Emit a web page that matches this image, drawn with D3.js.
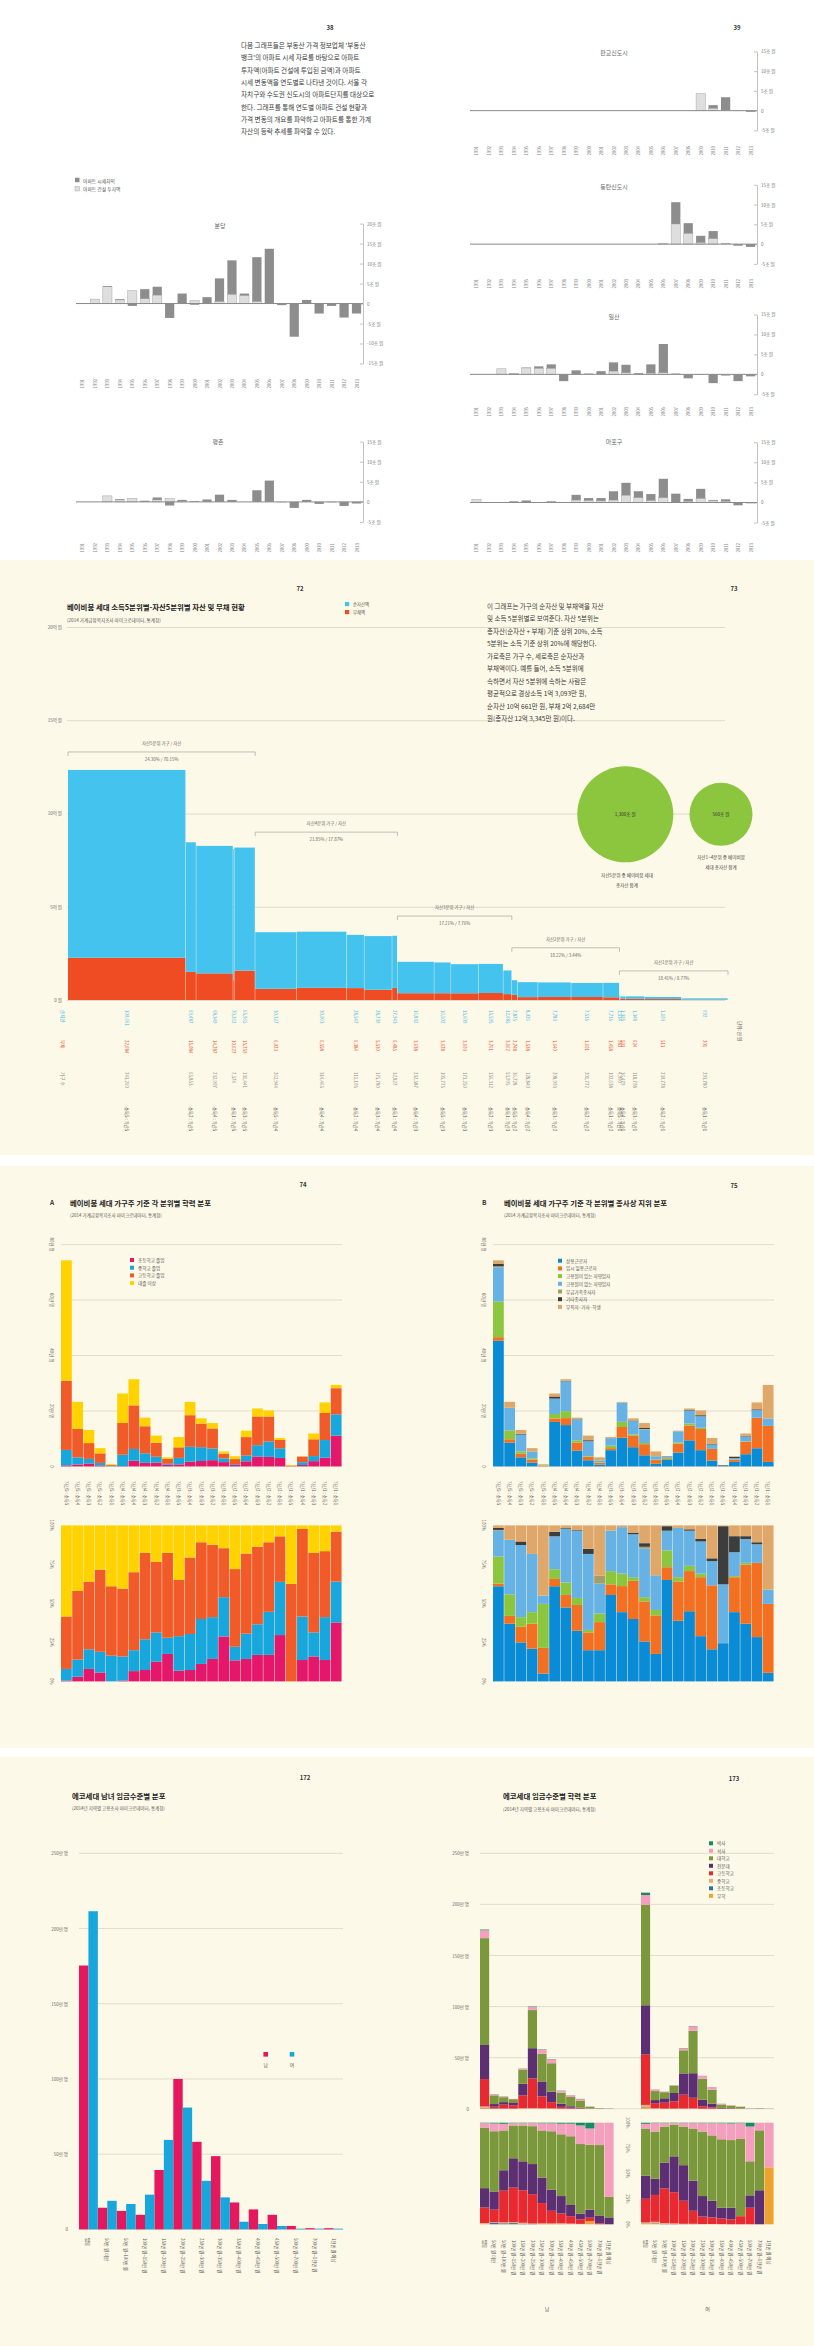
<!DOCTYPE html>
<html>
<head>
<meta charset="utf-8">
<script src="https://cdn.jsdelivr.net/npm/d3@7"></script>
<style>
  body { margin: 0; background: #fff; }
  svg { display: block; }
</style>
</head>
<body>
<svg id="page" width="814" height="2346"></svg>
<script>
// ---------------- data ----------------
// p.38-39 아파트 투자액 / 시세차익 (조 원)
const aptYears = ["1991","1992","1993","1994","1995","1996","1997","1998","1999","2000","2001","2002",
  "2003","2004","2005","2006","2007","2008","2009","2010","2011","2012","2013"];
const bundangBuild = [0,1.1,4.2,0.9,3.2,1.2,2.1,0,0,0.8,0,0.5,2.3,2.0,0.5,0,0,0,0,0,0,0,0];
const bundangGain  = [0,0,0.2,0.2,-0.6,2.4,2.1,-3.6,2.5,-0.3,1.6,5.8,8.5,0.5,11.1,13.7,-0.4,-8.3,0.9,-2.5,-0.6,-3.5,-2.5];
const pyeongchonBuild = [0,0,1.5,0.5,0.9,0,0.5,0.8,0.2,0,0,0,0,0,0,0,0,0,0,0,0,0,0];
const pyeongchonGain  = [0,0,0,0.2,0,0.3,0.6,-0.9,0.3,0.2,0.6,1.8,0.5,0,2.9,5.3,-0.1,-1.5,0.5,-0.5,-0.1,-1.0,-0.4];
const pangyoBuild = [0,0,0,0,0,0,0,0,0,0,0,0,0,0,0,0,0,0,4.3,0.6,0,0,0];
const pangyoGain  = [0,0,0,0,0,0,0,0,0,0,0,0,0,0,0,0,0,0,0,0.8,3.4,-0.1,-0.3];
const dongtanBuild = [0,0,0,0,0,0,0,0,0,0,0,0,0,0,0,0.2,5.1,2.7,0.4,1.4,0,0,0];
const dongtanGain  = [0,0,0,0,0,0,0,0,0,0,0,0,0,0,0,0,5.5,2.6,1.7,1.9,0.2,-0.4,-0.7];
const ilsanBuild = [0,0,1.4,0.2,1.6,1.5,1.5,0,0,0,0,0.8,0.4,0,0.3,0.4,0,0,0,0,0,0,0];
const ilsanGain  = [0,0,0,0.1,0.1,0.5,1.0,-1.7,1.0,0.2,0.8,2.2,2.0,0.3,2.2,7.2,0.2,-1.0,-0.1,-2.2,-0.3,-1.7,-0.5];
const mapoBuild = [0.8,0,0,0,0.1,0,0,0,0.6,0.5,0.4,0.6,1.8,1.2,0.5,1.2,0,0.3,1.0,0.4,0.3,0,0];
const mapoGain  = [0,0,0.1,0.3,0.4,0,0.3,0.1,1.3,0.6,0.7,2.2,3.1,1.6,1.6,4.7,2.2,0.6,2.4,0.2,0.5,-0.7,-0.2];

// p.72 소득5분위별-자산5분위별 자산 및 부채 (만 원, 가구)
const wLabels = ["소득5 : 자산5","소득2 : 자산5","소득4 : 자산5","소득1 : 자산5","소득3 : 자산5",
  "소득5 : 자산4","소득4 : 자산4","소득2 : 자산4","소득3 : 자산4","소득1 : 자산4",
  "소득4 : 자산3","소득5 : 자산3","소득3 : 자산3","소득2 : 자산3","소득1 : 자산3",
  "소득5 : 자산2","소득4 : 자산2","소득3 : 자산2","소득2 : 자산2","소득1 : 자산2",
  "소득5 : 자산1","소득4 : 자산1","소득3 : 자산1","소득2 : 자산1","소득1 : 자산1"];
const wNet  = [100661,69487,68349,70262,65965, 30327,30063,28547,28739,27943, 16832,16502,15609,15595,12685,
  7875,8026,7783,7535,7735, 1534,1305,1348,1103,692];
const wDebt = [22684,15084,14287,10627,15759, 6023,6558,6384,5530,6485, 3638,3628,3603,3761,3162,
  2748,1538,1640,1601,1458, 983,593,624,513,201];
const wHouse = [743260,65853,232907,7574,131441, 262944,314465,111105,175780,32827, 232587,105775,173250,156312,53995,
  36728,128840,208903,201772,102638, 4900,36479,118708,230778,293780];
const wGroupNames = ["자산5분위 가구 / 자산","자산4분위 가구 / 자산","자산3분위 가구 / 자산","자산2분위 가구 / 자산","자산1분위 가구 / 자산"];
const wGroupShares = ["24.30% / 70.15%","21.85% / 17.87%","17.21% / 7.76%","18.22% / 3.44%","18.41% / 0.77%"];
const circleValues = [1300, 560];
const circleTexts = ["1,300조 원", "560조 원"];

// p.74-75 각 분위별 학력 / 종사상 지위 분포 (%)
const abLabels = ["자산5 : 소득5","자산5 : 소득4","자산5 : 소득3","자산5 : 소득2","자산5 : 소득1",
  "자산4 : 소득5","자산4 : 소득4","자산4 : 소득3","자산4 : 소득2","자산4 : 소득1",
  "자산3 : 소득5","자산3 : 소득4","자산3 : 소득3","자산3 : 소득2","자산3 : 소득1",
  "자산2 : 소득5","자산2 : 소득4","자산2 : 소득3","자산2 : 소득2","자산2 : 소득1",
  "자산1 : 소득5","자산1 : 소득4","자산1 : 소득3","자산1 : 소득2","자산1 : 소득1"];
const eduKeysA = ["초등학교 졸업","중학교 졸업","고등학교 졸업","대졸 이상"];
const eduElem = [0.5,3,8,5.7,0,0.5,6.6,7.3,12.6,17.6,6.9,7.3,11.2,14.4,28.8,13.5,14.4,17,17,29.7,0,13.7,16,13.7,37.8];
const eduMid  = [7.5,11,12.6,13.3,16.5,15.5,13.4,19.7,18.8,10.4,22.1,23.1,28.8,26.8,25.2,8.7,16.2,19.6,27.6,34.1,0,27.9,15.4,27.5,26.2];
const eduHigh = [33.6,44,43.4,52.6,44.5,43.5,50,55.4,45.3,54.4,36,49,49.2,46.4,31.4,49.8,51.4,49.7,44.6,29.2,62.5,56.1,51,42.3,32];
const eduUniv = [58.4,42,36,28.4,39,40.5,30,17.6,23.3,17.6,35,20.6,10.8,12.4,14.6,28,18,13.7,10.8,7,37.5,2.3,17.6,16.5,4];
const jobKeys = ["상용근로자","임시 일용근로자","고용원이 있는 자영업자","고용원이 없는 자영업자","무급가족종사자","기타종사자","무직자·가사·학생"];
const jobRegular  = [61,37,25,21,5,61,47.4,32.5,20,20,55.4,44.4,40,25.6,17.6,65,38.9,45,29,20.6,24.5,44.4,37,28.4,5.5];
const jobTemp     = [1.7,5,10.2,16,16.5,4.7,8,16.5,11.4,18,6.8,16.7,24.5,25.7,24.7,8.2,25.1,25.7,37.8,41,0,22.4,37.8,47.6,44.2];
const jobEmployer = [17.3,13.8,6,7.4,28.2,6.2,8,4.5,1.6,5.5,8.5,8,2.3,2.7,3.5,10.8,2.8,3.4,2.3,0,0,0.7,1.2,0,0];
const jobSelf     = [16.6,35,46.2,37.3,5.3,21.1,34.3,43.1,48.7,19.2,25.9,29.8,27.5,31.3,22.2,12.6,31.6,22.5,20.6,15.5,37.7,15.3,15.3,11.9,9.1];
const jobFamily   = [0.5,0,0,0,0,0,0,0,0,5,0,0,0,1,0,0,0,0,0,0,0,0,0,0,0];
const jobOther    = [1.3,0,2.3,0,0,2.9,0.5,0.4,3.3,0,0,0,1.1,2.3,0,2.9,0,0.9,1.8,1.8,37.3,10.3,1.8,1.3,0];
const jobNone     = [1.6,9.2,10.3,18.3,45,4.1,1.8,3,15,32.3,3.4,1.1,4.6,11.4,32,0.5,1.6,2.5,8.5,21.1,0.5,6.9,6.9,10.8,41.2];

// p.172-173 에코세대 임금수준별 분포 (만 명) 및 학력 구성 (%)
const wageCats = ["없음","50만 원 미만","50만 원~100만 원","100만 원~150만 원","150만 원~200만 원","200만 원~250만 원",
  "250만 원~300만 원","300만 원~350만 원","350만 원~400만 원","400만 원~450만 원","450만 원~500만 원",
  "500만 원~700만 원","700만 원~1천만 원","1천만 원 이상"];
const wageMale   = [175.4,14.4,12.3,9.7,39.5,100,58.2,48.7,17.9,13.3,9.7,2.3,0.8,0.8];
const wageFemale = [211.5,19,16.9,23.1,59.5,81,32.3,21.3,5.1,3.6,2.3,0.5,0.5,0.5];
const echoEduKeys = ["무학","초등학교","중학교","고등학교","전문대","대학교","석사","박사"];
const maleNone   = [0.3,0,0,0,0,0,0.2,0.2,0.2,0.2,0,3,0,0];
const maleElem   = [0.2,1.5,1,1.2,0.5,0.3,0.3,0.2,0.2,0,0,0,0,0];
const maleMid    = [0.8,0.5,1,1,1,0.5,0.5,0.5,0.6,0.5,0.4,0,0,0];
const maleHigh   = [15.3,12.4,31.1,33.9,32,28.9,19.9,12.4,9.6,7.3,4.5,3.5,1,0];
const maleColl   = [19,17.9,20.1,28.9,28.5,29.6,25.1,20.9,17.2,11,5.7,7.9,7.7,6.8];
const maleUniv   = [59.6,59.3,39.2,32.3,35.3,37.3,46.4,57.4,60.8,67.7,68.4,63.9,69.3,20.2];
const maleMaster = [4.4,7.6,6.5,2.3,2.3,3,7,7.8,10.4,12.3,18.3,16,22,73];
const maleDoctor = [0.4,0.8,1.1,0.4,0.4,0.4,0.6,0.6,1,1,2.7,5.7,0,0];
const femaleNone   = [0.7,0.5,0,0,0,0,0,0,0,0,0,0,0,56];
const femaleElem   = [0.3,0.5,0.4,0.3,0.2,0.2,0.1,0,0,0,0,0,0,0];
const femaleMid    = [0.8,1.5,0.8,0.6,0.3,0.3,0.2,0.3,0.2,0,0,0,0,0];
const femaleHigh   = [23.3,26.4,34.2,30.7,22.7,12.8,7.3,6.5,5.5,4.9,8,16.3,0,0];
const femaleColl   = [22.8,16,25.4,35.3,35,29.7,20.2,16.4,10.6,11.4,0,12.2,33.5,0];
const femaleUniv   = [46.4,46.4,35.4,31.2,38,51.3,63.5,64.3,67.4,66.6,76,33.5,59,0];
const femaleMaster = [4.6,8.3,3.4,1.5,3.4,5.3,8.3,12,15.8,16.3,15.5,34.2,7.5,44];
const femaleDoctor = [1.1,0.4,0.4,0.4,0.4,0.4,0.4,0.5,0.5,0.8,0.5,3.8,0,0];

// ---------------- drawing ----------------
const FONT = '"Noto Sans CJK KR", "Noto Sans", sans-serif';
const svg = d3.select("#page").attr("font-family", FONT);
const CREAM = "#fdf9e8";

function txt(g, x, y, s, o = {}) {
  const t = g.append("text").attr("x", x).attr("y", y).text(s)
    .attr("font-size", o.size || 5).attr("fill", o.color || "#555")
    .attr("text-anchor", o.anchor || "start")
    .attr("dominant-baseline", o.base || "central");
  if (o.bold) t.attr("font-weight", 700);
  if (o.rotate) t.attr("transform", `rotate(${o.rotate},${x},${y})`);
  return t;
}

svg.append("rect").attr("width", 814).attr("height", 2346).attr("fill", "#fff");
[[560, 1155], [1166, 1748], [1757, 2346]].forEach(([a, b]) =>
  svg.append("rect").attr("x", 0).attr("y", a).attr("width", 814).attr("height", b - a).attr("fill", CREAM));

// ===== p.38-39 =====
const s1 = svg.append("g");
txt(s1, 330, 27, "38", { size: 6, bold: true, color: "#333", anchor: "middle" });
txt(s1, 737, 27, "39", { size: 6, bold: true, color: "#333", anchor: "middle" });
["다음 그래프들은 부동산 가격 정보업체 '부동산", "뱅크'의 아파트 시세 자료를 바탕으로 아파트",
 "투자액(아파트 건설에 투입된 금액)과 아파트", "시세 변동액을 연도별로 나타낸 것이다. 서울 각",
 "자치구와 수도권 신도시의 아파트단지를 대상으로", "한다. 그래프를 통해 연도별 아파트 건설 현황과",
 "가격 변동의 개요를 파악하고 아파트를 통한 가계", "자산의 등락 추세를 파악할 수 있다."]
  .forEach((l, i) => txt(s1, 241, 45 + i * 12.3, l, { size: 6.6, color: "#3a3a3a" }));

const APT_DARK = "#8d8d8d", APT_LIGHT = "#dedede";
s1.append("rect").attr("x", 75).attr("y", 177.7).attr("width", 4.5).attr("height", 4.5).attr("fill", APT_DARK);
s1.append("rect").attr("x", 75).attr("y", 186.5).attr("width", 4.5).attr("height", 4.5).attr("fill", APT_LIGHT).attr("stroke", "#aaa").attr("stroke-width", 0.5);
txt(s1, 83, 180, "아파트 시세차익", { size: 4.8, color: "#555" });
txt(s1, 83, 188.8, "아파트 건설 투자액", { size: 4.8, color: "#555" });

function aptChart(o) {
  const g = s1.append("g");
  const x = d3.scaleBand().domain(aptYears).range([o.x0, o.x1]).paddingInner(0.26).paddingOuter(0.15);
  const y = d3.scaleLinear().domain(o.domain).range([o.bottom, o.top]);
  const bw = x.bandwidth();
  g.selectAll("rect.lt").data(o.light.map((v, i) => ({ v, yr: aptYears[i] })).filter(d => d.v > 0))
    .join("rect").attr("x", d => x(d.yr)).attr("width", bw)
    .attr("y", d => y(d.v)).attr("height", d => y(0) - y(d.v))
    .attr("fill", APT_LIGHT).attr("stroke", "#a8a8a8").attr("stroke-width", 0.5);
  g.selectAll("rect.dk").data(o.dark.map((v, i) => ({ v, base: v > 0 ? o.light[i] : 0, yr: aptYears[i] })).filter(d => d.v !== 0))
    .join("rect").attr("x", d => x(d.yr)).attr("width", bw)
    .attr("y", d => y(Math.max(d.base, d.base + d.v)))
    .attr("height", d => Math.abs(y(d.base) - y(d.base + d.v)))
    .attr("fill", APT_DARK);
  g.append("line").attr("x1", o.x0).attr("x2", o.x1).attr("y1", y(0)).attr("y2", y(0))
    .attr("stroke", "#8a8a8a").attr("stroke-width", 1);
  const ax = g.append("g").attr("transform", `translate(${o.x1},0)`)
    .call(d3.axisRight(y).tickValues(o.ticks).tickSize(-3).tickSizeOuter(0).tickPadding(4)
      .tickFormat(d => d === 0 ? "0" : d + "조 원"));
  ax.select(".domain").attr("stroke", "#999").attr("stroke-width", 0.6);
  ax.selectAll(".tick line").attr("stroke", "#999").attr("stroke-width", 0.6);
  ax.selectAll("text").attr("font-size", 4.6).attr("fill", "#777").attr("font-family", FONT);
  txt(g, o.titleX, o.titleY, o.title, { size: 6, color: "#666", anchor: "middle" });
  aptYears.forEach(yr => txt(g, x(yr) + bw / 2, o.yearY, yr, { size: 4.3, color: "#888", anchor: "end", rotate: -90 }));
}
const tBig = [-15, -10, -5, 0, 5, 10, 15, 20], tSmall = [-5, 0, 5, 10, 15];
aptChart({ title: "분당", light: bundangBuild, dark: bundangGain, x0: 76, x1: 363, domain: [-15, 20], bottom: 363.5, top: 223.6, ticks: tBig, titleX: 220, titleY: 225, yearY: 379 });
aptChart({ title: "평촌", light: pyeongchonBuild, dark: pyeongchonGain, x0: 76, x1: 363, domain: [-5, 15], bottom: 522, top: 441.6, ticks: tSmall, titleX: 218, titleY: 441, yearY: 543 });
aptChart({ title: "판교신도시", light: pangyoBuild, dark: pangyoGain, x0: 470, x1: 757, domain: [-5, 15], bottom: 130.4, top: 51.4, ticks: tSmall, titleX: 614, titleY: 52, yearY: 146 });
aptChart({ title: "동탄신도시", light: dongtanBuild, dark: dongtanGain, x0: 470, x1: 757, domain: [-5, 15], bottom: 263.9, top: 184.8, ticks: tSmall, titleX: 614, titleY: 186, yearY: 279 });
aptChart({ title: "일산", light: ilsanBuild, dark: ilsanGain, x0: 470, x1: 757, domain: [-5, 15], bottom: 394.3, top: 314.5, ticks: tSmall, titleX: 614, titleY: 316, yearY: 407 });
aptChart({ title: "마포구", light: mapoBuild, dark: mapoGain, x0: 470, x1: 757, domain: [-5, 15], bottom: 522.6, top: 442.2, ticks: tSmall, titleX: 614, titleY: 441, yearY: 543 });

// ===== p.72-73 =====
const s2 = svg.append("g");
const BLUE = "#45c3ef", RED = "#ef4c24";
txt(s2, 300, 588, "72", { size: 6, bold: true, color: "#333", anchor: "middle" });
txt(s2, 734, 588, "73", { size: 6, bold: true, color: "#333", anchor: "middle" });
txt(s2, 67, 606, "베이비붐 세대 소득5분위별-자산5분위별 자산 및 부채 현황", { size: 7.4, bold: true, color: "#222" });
txt(s2, 67, 620, "(2014 가계금융복지조사 마이크로데이터, 통계청)", { size: 4.6, color: "#555" });
s2.append("rect").attr("x", 345).attr("y", 602).attr("width", 4.2).attr("height", 4.2).attr("fill", BLUE);
s2.append("rect").attr("x", 345).attr("y", 610).attr("width", 4.2).attr("height", 4.2).attr("fill", RED);
txt(s2, 353, 604.3, "순자산액", { size: 4.4, color: "#555" });
txt(s2, 353, 612.3, "부채액", { size: 4.4, color: "#555" });

const wy = d3.scaleLinear().domain([0, 200000]).range([1000, 627]);
const wAx = s2.append("g").attr("transform", "translate(67,0)")
  .call(d3.axisLeft(wy).tickValues([0, 50000, 100000, 150000, 200000]).tickSize(-658).tickPadding(5)
    .tickFormat(d => d === 0 ? "0 원" : (d / 10000) + "억 원"));
wAx.select(".domain").remove();
wAx.selectAll(".tick line").attr("stroke", "#c9c6b8").attr("stroke-width", 0.6);
wAx.selectAll("text").attr("font-size", 4.5).attr("fill", "#666").attr("font-family", FONT);

let cum = 0;
const wStart = wHouse.map(h => { const s = cum; cum += h; return s; });
const wx = d3.scaleLinear().domain([0, cum]).range([68, 728]);
const wCols = wLabels.map((l, i) => ({ l, net: wNet[i], debt: wDebt[i], hh: wHouse[i],
  x0: wx(wStart[i]), x1: wx(wStart[i] + wHouse[i]) }));
s2.selectAll("rect.debt").data(wCols).join("rect")
  .attr("x", d => d.x0).attr("width", d => Math.max(0.4, d.x1 - d.x0 - 0.4))
  .attr("y", d => wy(d.debt)).attr("height", d => wy(0) - wy(d.debt)).attr("fill", RED);
s2.selectAll("rect.net").data(wCols).join("rect")
  .attr("x", d => d.x0).attr("width", d => Math.max(0.4, d.x1 - d.x0 - 0.4))
  .attr("y", d => wy(d.debt + d.net)).attr("height", d => wy(d.debt) - wy(d.debt + d.net)).attr("fill", BLUE);

// brackets per asset quintile
const bracketLevel = [133000, 90000, 45000, 28000, 15600];
wGroupNames.forEach((name, gi) => {
  const a = wCols[gi * 5].x0, b = wCols[gi * 5 + 4].x1, yb = wy(bracketLevel[gi]);
  s2.append("path").attr("d", `M${a},${yb + 4}V${yb}H${b}V${yb + 4}`)
    .attr("fill", "none").attr("stroke", "#999").attr("stroke-width", 0.6);
  txt(s2, (a + b) / 2, yb - 9, name, { size: 4.4, color: "#666", anchor: "middle" });
  txt(s2, (a + b) / 2, yb + 7, wGroupShares[gi], { size: 4.4, color: "#666", anchor: "middle" });
});

const fmt = d3.format(",");
wCols.forEach(d => {
  const cx = (d.x0 + d.x1) / 2;
  txt(s2, cx, 1010, fmt(d.net), { size: 4.4, color: "#3db6e6", rotate: 90 });
  txt(s2, cx, 1040, fmt(d.debt), { size: 4.4, color: "#e8482b", rotate: 90 });
  txt(s2, cx, 1072, fmt(d.hh), { size: 4.4, color: "#8a8a8a", rotate: 90 });
  txt(s2, cx, 1107, d.l, { size: 4.4, color: "#444", rotate: 90 });
});
txt(s2, 63, 1010, "순자산", { size: 4.6, color: "#3db6e6", rotate: 90 });
txt(s2, 63, 1040, "부채", { size: 4.6, color: "#e8482b", rotate: 90 });
txt(s2, 63, 1072, "가구 수", { size: 4.6, color: "#8a8a8a", rotate: 90 });
txt(s2, 740, 1021, "단위: 만 원", { size: 4.6, color: "#666", rotate: 90 });

["이 그래프는 가구의 순자산 및 부채액을 자산", "및 소득 5분위별로 보여준다. 자산 5분위는",
 "총자산(순자산 + 부채) 기준 상위 20%, 소득", "5분위는 소득 기준 상위 20%에 해당한다.",
 "가로축은 가구 수, 세로축은 순자산과", "부채액이다. 예를 들어, 소득 5분위에",
 "속하면서 자산 5분위에 속하는 사람은", "평균적으로 경상소득 1억 3,093만 원,",
 "순자산 10억 661만 원, 부채 2억 2,684만", "원(총자산 12억 3,345만 원)이다."]
  .forEach((l, i) => txt(s2, 487, 606 + i * 12.45, l, { size: 6.5, color: "#3a3a3a" }));

const rScale = d3.scaleSqrt().domain([0, 1300]).range([0, 48]);
const circX = [625.3, 721];
circleValues.forEach((v, i) => {
  s2.append("circle").attr("cx", circX[i]).attr("cy", 814.3).attr("r", rScale(v)).attr("fill", "#8cc63f");
  txt(s2, circX[i], 814.3, circleTexts[i], { size: 4.6, color: "#333", anchor: "middle" });
});
txt(s2, 627, 875, "자산5분위 중 베이비붐 세대", { size: 4.6, color: "#444", anchor: "middle" });
txt(s2, 627, 885, "총자산 합계", { size: 4.6, color: "#444", anchor: "middle" });
txt(s2, 721, 856.7, "자산1~4분위 중 베이비붐", { size: 4.6, color: "#444", anchor: "middle" });
txt(s2, 721, 866.7, "세대 총자산 합계", { size: 4.6, color: "#444", anchor: "middle" });

// ===== p.74-75 =====
const s3 = svg.append("g");
txt(s3, 303, 1184, "74", { size: 6, bold: true, color: "#333", anchor: "middle" });
txt(s3, 734, 1185, "75", { size: 6, bold: true, color: "#333", anchor: "middle" });
const abHouse = abLabels.map(l => {
  const [a, s] = l.split(" : ");
  return wHouse[wLabels.indexOf(s + " : " + a)];
});

function distPanel(o) {
  const g = s3.append("g");
  txt(g, o.letterX, 1202, o.letter, { size: 6.5, bold: true, color: "#333" });
  txt(g, o.titleX, 1202.5, o.title, { size: 7.4, bold: true, color: "#222" });
  txt(g, o.titleX, 1215, "(2014 가계금융복지조사 마이크로데이터, 통계청)", { size: 4.5, color: "#555" });
  const x = d3.scaleBand().domain(abLabels).range([o.x0, o.x1]);
  const yT = d3.scaleLinear().domain([0, 800000]).range([1466.4, 1244.6]);
  const yB = d3.scaleLinear().domain([0, 100]).range([1681.4, 1525.4]);
  [0, 200000, 400000, 600000, 800000].forEach(v => {
    g.append("line").attr("x1", o.x0).attr("x2", o.x1).attr("y1", yT(v)).attr("y2", yT(v))
      .attr("stroke", "#cfcbbb").attr("stroke-width", 0.6);
    txt(g, o.axisX, yT(v), v === 0 ? "0" : (v / 10000) + "만 명", { size: 4.5, color: "#666", anchor: "middle", rotate: 90 });
  });
  [0, 25, 50, 75, 100].forEach(v =>
    txt(g, o.axisX, yB(v), v + "%", { size: 4.5, color: "#666", anchor: "middle", rotate: 90 }));
  const rowsP = abLabels.map((l, i) => {
    const r = { cat: l };
    o.keys.forEach((k, j) => r[k] = o.shares[j][i]);
    return r;
  });
  const rowsN = rowsP.map((r, i) => {
    const n = { cat: r.cat };
    o.keys.forEach(k => n[k] = abHouse[i] * r[k] / 100);
    return n;
  });
  const bw = x.bandwidth() - 0.45;
  [[rowsN, yT], [rowsP, yB]].forEach(([rows, y]) => {
    g.append("g").selectAll("g").data(d3.stack().keys(o.keys)(rows)).join("g")
      .attr("fill", (d, i) => o.colors[i])
      .selectAll("rect").data(d => d).join("rect")
      .attr("x", d => x(d.data.cat)).attr("width", bw)
      .attr("y", d => y(d[1])).attr("height", d => Math.max(0, y(d[0]) - y(d[1])));
  });
  abLabels.forEach(l => txt(g, x(l) + x.bandwidth() / 2, 1481, l, { size: 4.4, color: "#555", rotate: 90 }));
  o.keys.forEach((k, i) => {
    const ly = o.legendY + i * 7.7;
    g.append("rect").attr("x", o.legendX - 2).attr("y", ly - 2).attr("width", 4).attr("height", 4).attr("fill", o.colors[i]);
    txt(g, o.legendX + 6, ly, k, { size: 4.6, color: "#555" });
  });
}
distPanel({ letter: "A", letterX: 50, title: "베이비붐 세대 가구주 기준 각 분위별 학력 분포", titleX: 70,
  x0: 61, x1: 342, axisX: 52, keys: eduKeysA, shares: [eduElem, eduMid, eduHigh, eduUniv],
  colors: ["#e5176a", "#18a7dc", "#f15a29", "#ffd200"], legendX: 132, legendY: 1260 });
distPanel({ letter: "B", letterX: 482, title: "베이비붐 세대 가구주 기준 각 분위별 종사상 지위 분포", titleX: 504,
  x0: 493, x1: 774, axisX: 484, keys: jobKeys,
  shares: [jobRegular, jobTemp, jobEmployer, jobSelf, jobFamily, jobOther, jobNone],
  colors: ["#0a8bd5", "#f36f21", "#8cc63f", "#66b2e4", "#a49d6b", "#3d3d3d", "#dfa86a"], legendX: 560, legendY: 1260.7 });

// ===== p.172-173 =====
const s4 = svg.append("g");
const MALE = "#e5175d", FEMALE = "#18a7dc";
txt(s4, 305, 1777, "172", { size: 6, bold: true, color: "#333", anchor: "middle" });
txt(s4, 734, 1778, "173", { size: 6, bold: true, color: "#333", anchor: "middle" });
txt(s4, 72, 1795, "에코세대 남녀 임금수준별 분포", { size: 7.4, bold: true, color: "#222" });
txt(s4, 72, 1807.6, "(2014년 지역별 고용조사 마이크로데이터, 통계청)", { size: 4.5, color: "#555" });
const gx0 = d3.scaleBand().domain(wageCats).range([79, 343]);
const gx1 = d3.scaleBand().domain(["남", "여"]).range([0, gx0.bandwidth()]);
const gy = d3.scaleLinear().domain([0, 250]).range([2229.4, 1853.3]);
[0, 50, 100, 150, 200, 250].forEach(v => {
  s4.append("line").attr("x1", 79).attr("x2", 343).attr("y1", gy(v)).attr("y2", gy(v))
    .attr("stroke", "#cfcbbb").attr("stroke-width", 0.6);
  txt(s4, 68, gy(v), v === 0 ? "0" : v + "만 명", { size: 4.5, color: "#666", anchor: "end" });
});
s4.selectAll("rect.m").data(wageMale).join("rect")
  .attr("x", (d, i) => gx0(wageCats[i]) + gx1("남")).attr("width", gx1.bandwidth())
  .attr("y", d => gy(d)).attr("height", d => gy(0) - gy(d)).attr("fill", MALE);
s4.selectAll("rect.f").data(wageFemale).join("rect")
  .attr("x", (d, i) => gx0(wageCats[i]) + gx1("여")).attr("width", gx1.bandwidth())
  .attr("y", d => gy(d)).attr("height", d => gy(0) - gy(d)).attr("fill", FEMALE);
wageCats.forEach(c => txt(s4, gx0(c) + gx0.bandwidth() / 2, 2238, c, { size: 4.4, color: "#555", rotate: 90 }));
[["남", MALE, 265.7], ["여", FEMALE, 292]].forEach(([n, c, lx]) => {
  s4.append("rect").attr("x", lx - 2.3).attr("y", 2052).attr("width", 4.6).attr("height", 4.6).attr("fill", c);
  txt(s4, lx, 2064, n, { size: 4.8, color: "#555", anchor: "middle" });
});

txt(s4, 503, 1795, "에코세대 임금수준별 학력 분포", { size: 7.4, bold: true, color: "#222" });
txt(s4, 503, 1808.8, "(2014년 지역별 고용조사 마이크로데이터, 통계청)", { size: 4.5, color: "#555" });
const ey = d3.scaleLinear().domain([0, 250]).range([2108.8, 1853.3]);
const ep = d3.scaleLinear().domain([0, 100]).range([2224.3, 2122.7]);
[0, 50, 100, 150, 200, 250].forEach(v => {
  s4.append("line").attr("x1", 480).attr("x2", 774).attr("y1", ey(v)).attr("y2", ey(v))
    .attr("stroke", "#cfcbbb").attr("stroke-width", 0.6);
  txt(s4, 469, ey(v), v === 0 ? "0" : v + "만 명", { size: 4.5, color: "#666", anchor: "end" });
});
[0, 25, 50, 75, 100].forEach(v => txt(s4, 628, ep(v), v + "%", { size: 4.5, color: "#666", anchor: "middle", rotate: 90 }));
const echoColors = ["#eea22f", "#35709a", "#f3a873", "#e8292f", "#5c2e72", "#7c983c", "#f39fbd", "#148c63"];

function echoChart(totals, shares, x0, x1, sexLabel) {
  const g = s4.append("g");
  const x = d3.scaleBand().domain(wageCats).range([x0, x1]);
  const rowsP = wageCats.map((c, i) => {
    const r = { cat: c };
    echoEduKeys.forEach((k, j) => r[k] = shares[j][i]);
    return r;
  });
  const rowsN = rowsP.map((r, i) => {
    const n = { cat: r.cat };
    echoEduKeys.forEach(k => n[k] = totals[i] * r[k] / 100);
    return n;
  });
  const bw = x.bandwidth() - 0.4;
  [[rowsN, ey], [rowsP, ep]].forEach(([rows, y]) => {
    g.append("g").selectAll("g").data(d3.stack().keys(echoEduKeys)(rows)).join("g")
      .attr("fill", (d, i) => echoColors[i])
      .selectAll("rect").data(d => d).join("rect")
      .attr("x", d => x(d.data.cat)).attr("width", bw)
      .attr("y", d => y(d[1])).attr("height", d => Math.max(0, y(d[0]) - y(d[1])));
  });
  wageCats.forEach(c => txt(g, x(c) + x.bandwidth() / 2, 2240, c, { size: 4.4, color: "#555", rotate: 90 }));
  txt(g, (x0 + x1) / 2, 2308, sexLabel, { size: 5, color: "#555", anchor: "middle" });
}
echoChart(wageMale, [maleNone, maleElem, maleMid, maleHigh, maleColl, maleUniv, maleMaster, maleDoctor], 480, 614, "남");
echoChart(wageFemale, [femaleNone, femaleElem, femaleMid, femaleHigh, femaleColl, femaleUniv, femaleMaster, femaleDoctor], 641, 774, "여");
echoEduKeys.slice().reverse().forEach((k, i) => {
  const ly = 1843.3 + i * 7.5;
  s4.append("rect").attr("x", 709).attr("y", ly - 2).attr("width", 4).attr("height", 4)
    .attr("fill", echoColors[echoEduKeys.length - 1 - i]);
  txt(s4, 717, ly, k, { size: 4.6, color: "#555" });
});
</script>
</body>
</html>
